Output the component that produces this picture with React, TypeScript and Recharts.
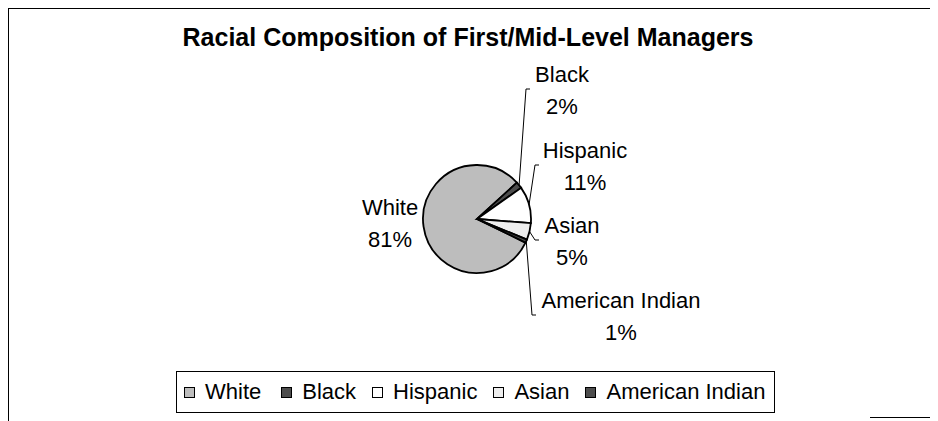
import { PieChart, Pie, Cell, Legend } from "recharts";

const CATEGORIES = ["White", "Black", "Hispanic", "Asian", "American Indian"];
const SHARES = [81, 2, 11, 5, 1];

const FILLS = ["#bdbdbd", "#4d4d4d", "#ffffff", "#eeeeee", "#4d4d4d"];
const FONT = "'Liberation Sans', Arial, sans-serif";

// where each label block sits, relative to the pie centre (dx, dy = block middle),
// ax = x of the leader-line bracket (null: no leader)
const LABEL_LAYOUT = [
  { dx: -87, dy: 3, ax: null },
  { dx: 85, dy: -130, ax: 53 },
  { dx: 108, dy: -54, ax: 62 },
  { dx: 95, dy: 21, ax: 62 },
  { dx: 144, dy: 96, ax: 59 },
];

const data = CATEGORIES.map((name, i) => ({ name, value: SHARES[i] }));

const RAD = Math.PI / 180;

function renderLabel(props: any) {
  const { cx, cy, index, percent } = props;
  const l = LABEL_LAYOUT[index];
  const x = cx + l.dx;
  const y = cy + l.dy;
  return (
    <text
      x={x}
      y={y}
      textAnchor="middle"
      fontSize={22}
      fontFamily={FONT}
      fill="#000"
    >
      <tspan x={x} y={y - 7}>
        {CATEGORIES[index]}
      </tspan>
      <tspan x={x} y={y + 25}>
        {Math.round(percent * 100)}%
      </tspan>
    </text>
  );
}

function renderLine(props: any) {
  const { cx, cy, midAngle, outerRadius, index } = props;
  const l = LABEL_LAYOUT[index];
  if (l.ax == null) return <g />;
  const sx = cx + outerRadius * Math.cos(-midAngle * RAD);
  const sy = cy + outerRadius * Math.sin(-midAngle * RAD);
  const ex = cx + l.ax;
  const ey = cy + l.dy;
  return (
    <path
      d={`M${sx},${sy}L${ex - 4},${ey}L${ex},${ey}`}
      stroke="#000"
      strokeWidth={1}
      fill="none"
    />
  );
}

function LegendBox({ payload }: any) {
  const items = [...(payload || [])].sort(
    (a: any, b: any) => CATEGORIES.indexOf(a.value) - CATEGORIES.indexOf(b.value)
  );
  return (
    <div
      style={{
        display: "flex",
        alignItems: "center",
        width: 599,
        height: 42,
        boxSizing: "border-box",
        border: "1px solid #000",
        paddingLeft: 7,
        background: "#fff",
        fontSize: 22,
        fontFamily: FONT,
        color: "#000",
        whiteSpace: "nowrap",
      }}
    >
      {items.map((p: any, i: number) => (
        <span
          key={p.value}
          style={{
            display: "flex",
            alignItems: "center",
            flexShrink: 0,
            marginRight: i === items.length - 1 ? 0 : i === 0 ? 20 : 16,
          }}
        >
          <span
            style={{
              width: 11,
              height: 11,
              boxSizing: "border-box",
              border: "1px solid #000",
              background: p.color || FILLS[CATEGORIES.indexOf(p.value)],
              marginRight: 10,
            }}
          />
          {p.value}
        </span>
      ))}
    </div>
  );
}

export default function App() {
  return (
    <div
      style={{
        position: "relative",
        width: 930,
        height: 413,
        fontFamily: FONT,
        background: "#fff",
      }}
    >
      {/* frame edges of the scanned chart */}
      <div style={{ position: "absolute", left: -1, top: -1, width: 2, height: 414, background: "#000" }} />
      <div style={{ position: "absolute", left: -1, top: -1, width: 931, height: 2, background: "#000" }} />
      <div style={{ position: "absolute", left: 862, top: 409, width: 68, height: 1, background: "#000" }} />

      <div
        style={{
          position: "absolute",
          left: 0,
          top: 17,
          width: 920,
          textAlign: "center",
          fontWeight: "bold",
          fontSize: 25,
          lineHeight: "25px",
          color: "#000",
        }}
      >
        Racial Composition of First/Mid-Level Managers
      </div>

      <PieChart width={930} height={413} margin={{ top: 0, right: 0, bottom: 0, left: 0 }}>
        <Pie
          data={data}
          dataKey="value"
          nameKey="name"
          cx={469}
          cy={211}
          outerRadius={54}
          startAngle={-26}
          endAngle={-386}
          stroke="#000"
          strokeWidth={1.8}
          label={renderLabel}
          labelLine={renderLine}
          isAnimationActive={false}
        >
          {data.map((d, i) => (
            <Cell key={d.name} fill={FILLS[i]} />
          ))}
        </Pie>
        <Legend
          content={<LegendBox />}
          wrapperStyle={{ left: 168, top: 363, bottom: "auto", width: "auto" }}
        />
      </PieChart>
    </div>
  );
}
